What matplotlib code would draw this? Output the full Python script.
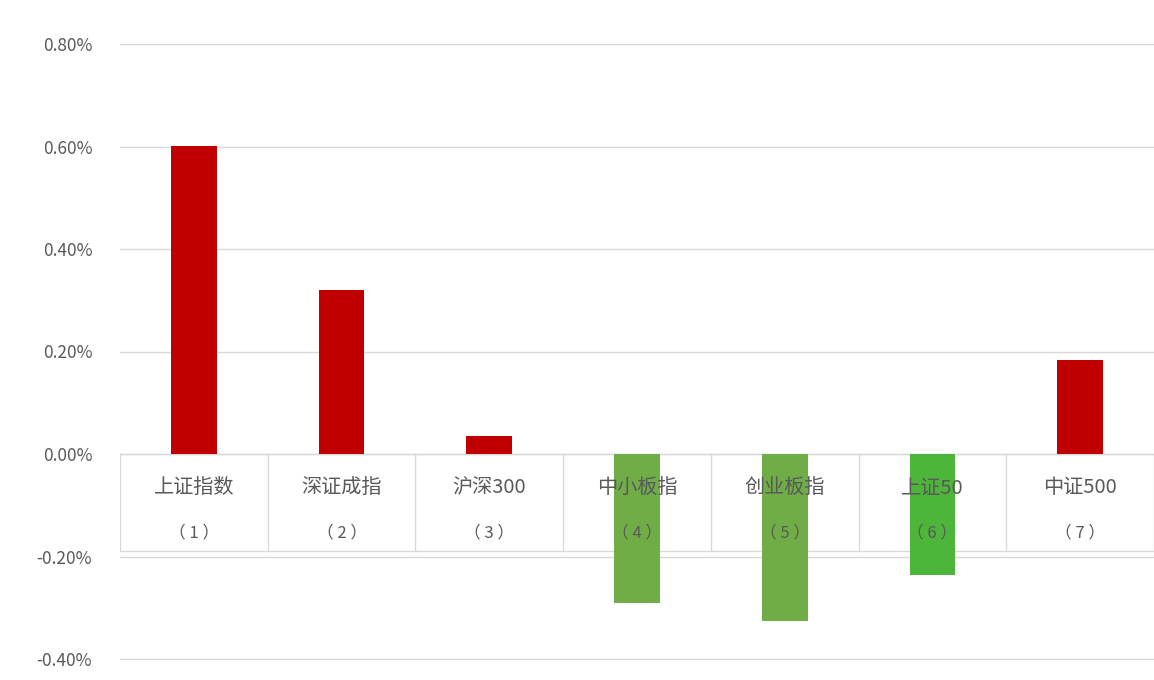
import matplotlib.pyplot as plt
from matplotlib.ticker import FuncFormatter

plt.rcParams['font.family'] = ['Noto Sans CJK SC', 'DejaVu Sans']

names = ['上证指数', '深证成指', '沪深300', '中小板指', '创业板指', '上证50', '中证500']
nums = ['（ 1 ）', '（ 2 ）', '（ 3 ）', '（ 4 ）', '（ 5 ）', '（ 6 ）', '（ 7 ）']
values = [0.601, 0.320, 0.035, -0.291, -0.326, -0.236, 0.183]
colors = ['#C00000', '#C00000', '#C00000', '#70AD47', '#70AD47', '#4DB539', '#C00000']

fig = plt.figure(figsize=(11.54, 6.8), dpi=100)
ax = fig.add_axes([120 / 1154, 21 / 680, 1 - 120 / 1154, 615 / 680])

x = list(range(len(values)))
ax.bar(x, values, width=0.31, color=colors, zorder=2)
ax.set_xlim(-0.5, len(values) - 0.5)
ax.set_ylim(-0.4, 0.8)
ax.set_yticks([-0.4, -0.2, 0, 0.2, 0.4, 0.6, 0.8])
ax.yaxis.set_major_formatter(FuncFormatter(lambda v, p: '%.2f%%' % v))
ax.grid(axis='y', color='#D9D9D9', linewidth=1, zorder=0)
for gl in ax.get_ygridlines():
    gl.set_clip_on(False)
ax.set_xticks([])
for s in ax.spines.values():
    s.set_visible(False)
ax.tick_params(axis='y', length=0, labelsize=12.5, labelcolor='#595959', pad=20)

# category table lines under the zero line
ax.axhline(0, color='#D9D9D9', linewidth=1, zorder=1)
ax.axhline(-0.19, color='#D9D9D9', linewidth=1, zorder=1)
for b in range(len(values) + 1):
    ax.plot([b - 0.5, b - 0.5], [0, -0.19], color='#D9D9D9', linewidth=1, zorder=1)

for i in x:
    ax.text(i, -0.066, names[i], ha='center', va='center', fontsize=14.5, color='#595959', zorder=3)
    ax.text(i, -0.154, nums[i], ha='center', va='center', fontsize=12, color='#595959', zorder=3)

fig.savefig('out.png')
